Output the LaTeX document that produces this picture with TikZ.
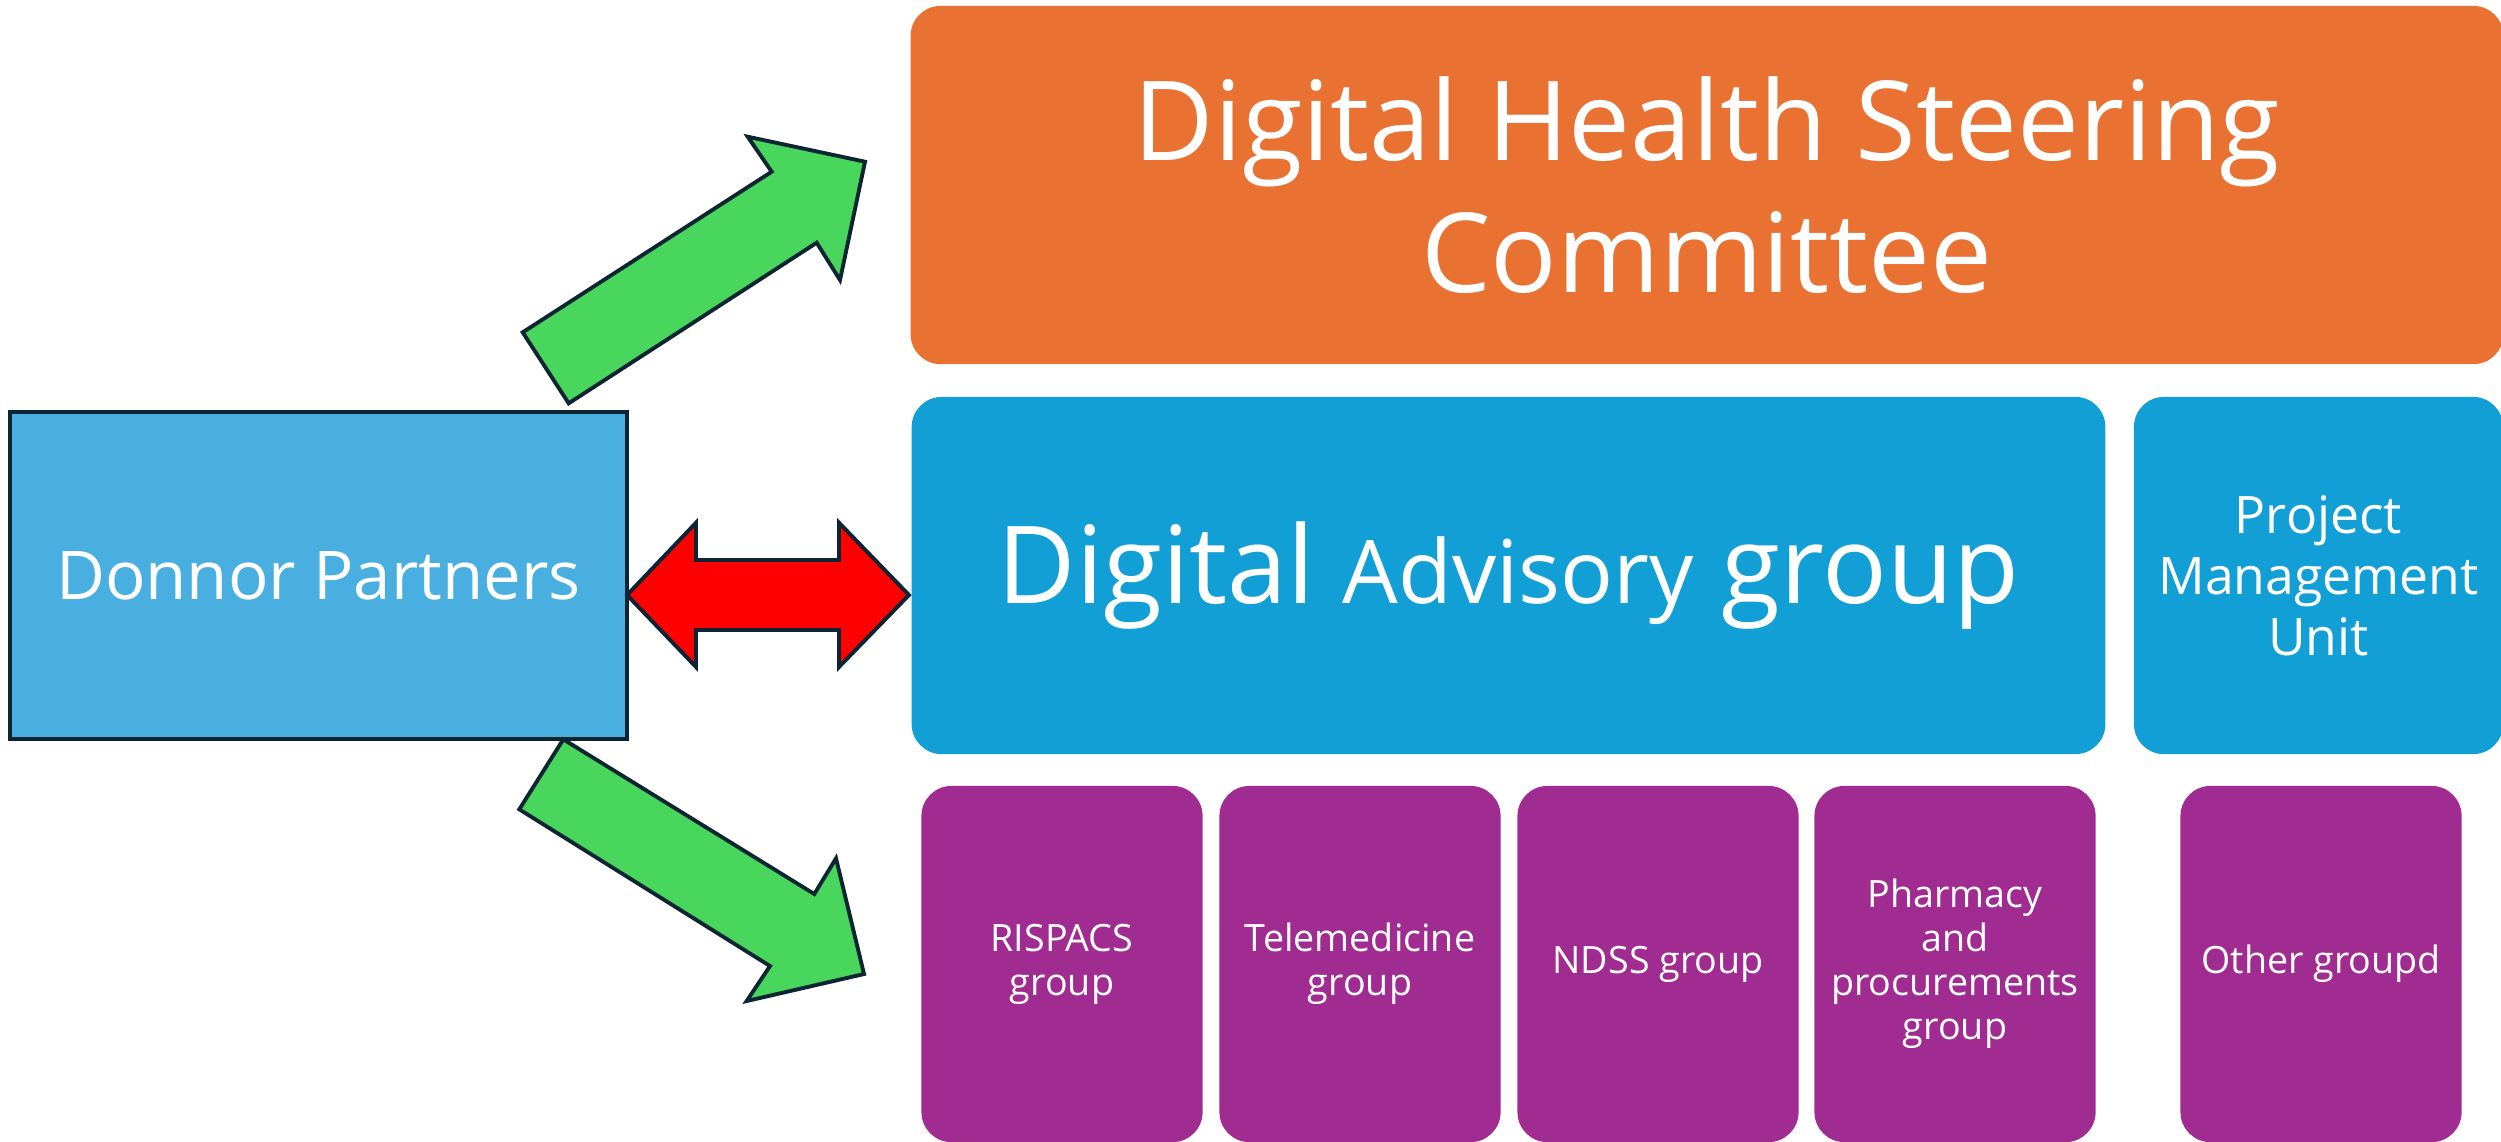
\documentclass[tikz,border=0pt]{standalone}
\usepackage{fontspec}
\setmainfont{Open Sans}
\definecolor{orangeC}{HTML}{E97132}
\definecolor{blueC}{HTML}{129FD6}
\definecolor{donnorC}{HTML}{48AFE0}
\definecolor{purpleC}{HTML}{A02B91}
\definecolor{greenC}{HTML}{48D65D}
\definecolor{redC}{HTML}{FF0000}
\definecolor{outl}{HTML}{0B2533}
\begin{document}
\begin{tikzpicture}[x=0.01cm,y=-0.01cm,
  box/.style={rounded corners=0.3cm, inner sep=0pt, text=white, align=center},
  purplebox/.style={box, fill=purpleC, minimum width=2.81cm, minimum height=3.56cm,
     font=\fontsize{10.7}{12.5}\selectfont},
  blockarrow/.style={draw=outl, line width=1.1pt, line join=miter},
]
\useasboundingbox (0,0) rectangle (2501,1141);
\clip (0,0) rectangle (2501,1141);

% boxes
\node[box, fill=orangeC, minimum width=15.92cm, minimum height=3.58cm,
  font=\fontsize{31.4}{37.4}\selectfont] (dhsc) at (1707,185)
  {Digital Health Steering\\Committee};
\node[box, fill=blueC, minimum width=11.93cm, minimum height=3.57cm,
  font=\fontsize{30.6}{36}\selectfont] (dag) at (1508.5,575.5)
  {Digital {\fontsize{25}{30}\selectfont Advisory} group};
\node[box, fill=blueC, minimum width=3.69cm, minimum height=3.57cm,
  font=\fontsize{14.7}{17.3}\selectfont] (pmu) at (2318.5,575.5)
  {Project\\Management\\Unit};
\node[draw=outl, line width=1.3pt, fill=donnorC, text=white, inner sep=0pt,
  minimum width=6.17cm, minimum height=3.27cm,
  font=\fontsize{19.1}{23}\selectfont] (donnor) at (318.5,575.5) {Donnor Partners};

\node[purplebox] (rispacs) at (1062,964) {RISPACS\\group};
\node[purplebox] (tele) at (1360,964) {Telemedicine\\group};
\node[purplebox] (ndss) at (1658,964) {NDSS group};
\node[purplebox] (pharm) at (1955,964) {Pharmacy\\and\\procurements\\group};
\node[purplebox] (other) at (2321,964) {Other groupd};

% block arrows
\draw[blockarrow, fill=greenC] (522.7,332.3) -- (568.7,403.3) -- (816.7,242.7) -- (840,280)
  -- (865,161.7) -- (747.7,136.7) -- (771.7,171.7) -- cycle;
\draw[blockarrow, fill=greenC] (563.3,739.3) -- (519.3,809.3) -- (770,966) -- (746.7,1001)
  -- (864,974) -- (836,858.3) -- (814.3,894) -- cycle;
\draw[blockarrow, fill=redC] (627,595) -- (696,522.7) -- (696,560) -- (839,560) -- (839,522.7)
  -- (909,595) -- (839,667) -- (839,630) -- (696,630) -- (696,667) -- cycle;
\end{tikzpicture}
\end{document}
